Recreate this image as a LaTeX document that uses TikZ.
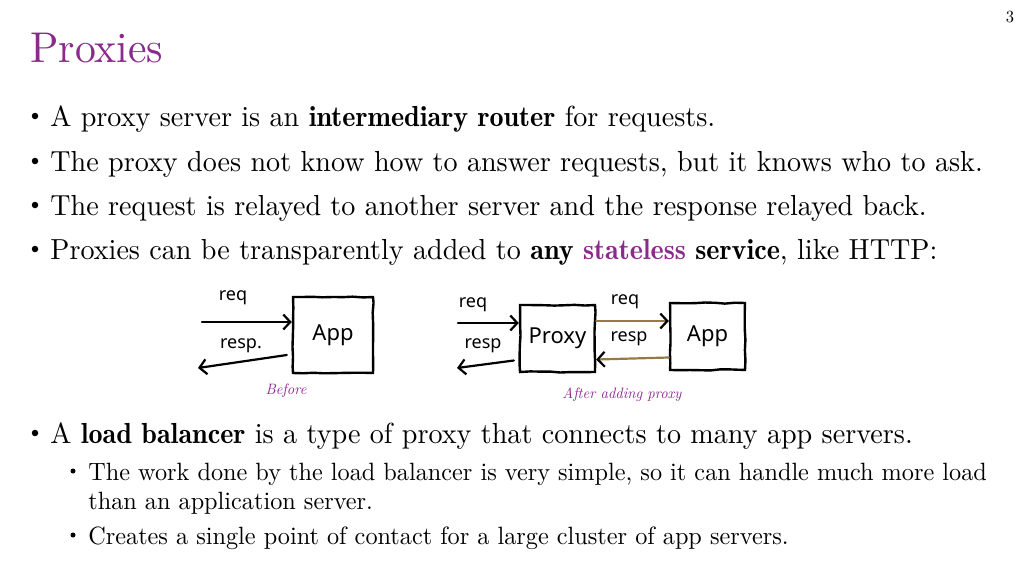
\documentclass[tikz,border=0pt]{standalone}
\usepackage{fontspec}
\usepackage{xcolor}
\usetikzlibrary{positioning, arrows.meta, decorations.pathmorphing}
\setmainfont{lmroman10-regular.otf}[BoldFont=lmromandemi10-regular.otf,
  ItalicFont=lmroman10-italic.otf, FakeStretch=0.97]
\newfontfamily\sketchfont{Noto Sans}
\definecolor{slidepurple}{RGB}{139,42,141}
\definecolor{pencil}{RGB}{150,122,70}
\tikzset{every picture/.style={line width=0.75pt}}
\tikzset{
  txt/.style={anchor=base west, inner sep=0pt, font=\fontsize{29}{31}\selectfont},
  subtxt/.style={anchor=base west, inner sep=0pt, font=\fontsize{25}{27}\selectfont},
  dot/.style={circle, fill=black, inner sep=0pt, minimum size=6.5pt},
  subdot/.style={circle, fill=black, inner sep=0pt, minimum size=5pt},
  sketchbox/.style={draw, line width=2.4pt, inner sep=0pt,
    font=\sketchfont\fontsize{22}{24}\selectfont,
    decorate, decoration={random steps, segment length=10pt, amplitude=0.6pt}},
  hand/.style={inner sep=0pt, font=\sketchfont\fontsize{18}{19}\selectfont},
  sk/.style={line width=2.2pt, line cap=round},
  caption/.style={anchor=base, inner sep=0pt, text=slidepurple,
    font=\itshape\fontsize{15}{16}\selectfont}
}

\begin{document}
\begin{tikzpicture}[x=1pt,y=-1pt,>={Straight Barb[length=7pt,width=15pt]}]
  \useasboundingbox (0,0) rectangle (1024,576);

  \node [anchor=base, inner sep=0pt, font=\fontsize{17}{19}\selectfont] (pagenum) at (1010,22) {3};
  \node [anchor=base west, inner sep=0pt, text=slidepurple, font=\fontsize{43}{46}\selectfont]
    (title) at (30,62) {Proxies};

  \node [dot] (d1) at (35,116) {};
  \node [txt] (l1) at (50,126) {A proxy server is an \textbf{intermediary router} for requests.};
  \node [dot] (d2) at (35,161) {};
  \node [txt] (l2) at (50,171) {The proxy does not know how to answer requests, but it knows who to ask.};
  \node [dot] (d3) at (35,205) {};
  \node [txt] (l3) at (50,215) {The request is relayed to another server and the response relayed back.};
  \node [dot] (d4) at (35,249) {};
  \node [txt] (l4) at (50,259) {Proxies can be transparently added to \textbf{any \textcolor{slidepurple}{stateless} service}, like HTTP:};

  % before
  \node [sketchbox, minimum width=80pt, minimum height=76pt] (app1) at (333,335) {App};
  \coordinate (req1s) at (202,322);
  \coordinate (resp1e) at (198,368);
  \draw [sk,->] (req1s) -- (req1s -| app1.west);
  \draw [sk,->] ([shift={(-5,20)}]app1.west) -- (resp1e);
  \node [hand] (req1) at (233,298) {req};
  \node [hand] (resp1) at (241,346) {resp.};
  \node [caption] (before) at (286,394) {Before};

  % after
  \node [sketchbox, minimum width=75pt, minimum height=67pt] (proxy) at (557.5,338.5) {Proxy};
  \node [sketchbox, minimum width=75pt, minimum height=67pt] (app2) at (707.5,336.5) {App};
  \coordinate (req2s) at (458,323);
  \coordinate (resp2e) at (457,368);
  \draw [sk,->] (req2s) -- (req2s -| proxy.west);
  \draw [sk,->] ([shift={(-5,22)}]proxy.west) -- (resp2e);
  \draw [sk, draw=pencil, -{Straight Barb[length=7pt,width=15pt,color=black]}]
    ([shift={(0,-17.5)}]proxy.east) -- ([shift={(0,-15.5)}]app2.west);
  \draw [sk, draw=pencil, -{Straight Barb[length=7pt,width=15pt,color=black]}]
    ([shift={(0,21)}]app2.west) -- ([shift={(0,21)}]proxy.east);
  \node [hand] (req2) at (473,305) {req};
  \node [hand] (resp2) at (483,346) {resp};
  \node [hand] (req3) at (625,302) {req};
  \node [hand] (resp3) at (629,339) {resp};
  \node [caption] (after) at (622,398) {After adding proxy};

  \node [dot] (d5) at (35,433) {};
  \node [txt] (l5) at (50,443) {A \textbf{load balancer} is a type of proxy that connects to many app servers.};
  \node [subdot] (s1) at (73,471) {};
  \node [subtxt] (l6) at (88,480) {The work done by the load balancer is very simple, so it can handle much more load};
  \node [subtxt] (l7) at (88,509) {than an application server.};
  \node [subdot] (s2) at (73,535) {};
  \node [subtxt] (l8) at (88,544) {Creates a single point of contact for a large cluster of app servers.};
\end{tikzpicture}
\end{document}
